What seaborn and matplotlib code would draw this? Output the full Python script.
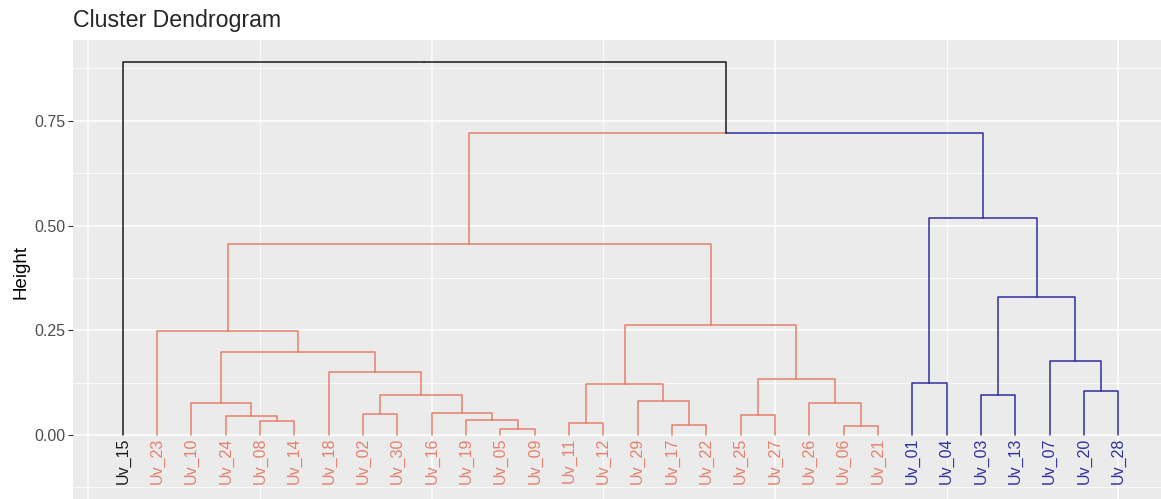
import matplotlib
matplotlib.use('Agg')
import numpy as np
import pandas as pd
import matplotlib.pyplot as plt
import seaborn as sns

# leaves in dendrogram order, with their cluster
leaves = ['Uv_15', 'Uv_23', 'Uv_10', 'Uv_24', 'Uv_08', 'Uv_14', 'Uv_18', 'Uv_02',
          'Uv_30', 'Uv_16', 'Uv_19', 'Uv_05', 'Uv_09', 'Uv_11', 'Uv_12', 'Uv_29',
          'Uv_17', 'Uv_22', 'Uv_25', 'Uv_27', 'Uv_26', 'Uv_06', 'Uv_21', 'Uv_01',
          'Uv_04', 'Uv_03', 'Uv_13', 'Uv_07', 'Uv_20', 'Uv_28']
leaf_cluster = ['c1'] + ['c2'] * 22 + ['c3'] * 7

# merges: "#n" means the n-th merge below
merge_a = ['Uv_08', 'Uv_24', 'Uv_10', 'Uv_05', 'Uv_19', 'Uv_16', 'Uv_02', '#6',
           'Uv_18', '#2', 'Uv_23', 'Uv_11', 'Uv_17', 'Uv_29', '#11', 'Uv_25',
           'Uv_06', 'Uv_26', '#15', '#14', '#10', 'Uv_01', 'Uv_03', 'Uv_20',
           'Uv_07', '#22', '#21', '#20', 'Uv_15']
merge_b = ['Uv_14', '#0', '#1', 'Uv_09', '#3', '#4', 'Uv_30', '#5',
           '#7', '#8', '#9', 'Uv_12', 'Uv_22', '#12', '#13', 'Uv_27',
           'Uv_21', '#16', '#17', '#18', '#19', 'Uv_04', 'Uv_13', 'Uv_28',
           '#23', '#24', '#25', '#26', '#27']
merge_height = [0.033, 0.045, 0.076, 0.014, 0.036, 0.052, 0.049, 0.096,
                0.150, 0.198, 0.248, 0.029, 0.024, 0.080, 0.121, 0.048,
                0.022, 0.076, 0.134, 0.263, 0.456, 0.124, 0.096, 0.105,
                0.177, 0.330, 0.518, 0.721, 0.891]

palette = {'c1': '#1a1a1a', 'c2': '#E5806B', 'c3': '#2F2FA0'}

# node positions / colours
node_x = {name: i + 1 for i, name in enumerate(leaves)}
node_h = {name: 0.0 for name in leaves}
node_c = dict(zip(leaves, leaf_cluster))

rows = []
for i, (a, b, h) in enumerate(zip(merge_a, merge_b, merge_height)):
    key = '#%d' % i
    xm = (node_x[a] + node_x[b]) / 2
    for child in (a, b):
        seg = '%s_%s' % (key, child)
        for px, py in [(node_x[child], node_h[child]), (node_x[child], h), (xm, h)]:
            rows.append({'seg': seg, 'x': px, 'y': py, 'cluster': node_c[child]})
    node_x[key] = xm
    node_h[key] = h
    node_c[key] = node_c[a] if node_c[a] == node_c[b] else 'c1'
segs = pd.DataFrame(rows)

sns.set_theme(style="darkgrid", rc={
    'axes.facecolor': '#EBEBEB',
    'grid.color': 'white',
})
plt.rcParams['font.family'] = ['Liberation Sans', 'DejaVu Sans']

fig = plt.figure(figsize=(11.61, 4.99), dpi=100)
ax = fig.add_axes([73 / 1161, -5 / 499, 1095 / 1161, 464 / 499])

sns.lineplot(data=segs, x='x', y='y', units='seg', estimator=None, sort=False,
             hue='cluster', palette=palette, linewidth=1.1, legend=False, ax=ax)

for i, (name, cl) in enumerate(zip(leaves, leaf_cluster)):
    ax.text(i + 1, -0.006, name, rotation=90, ha='center', va='top',
            fontsize=11.5, color=palette[cl])

ax.set_xlim(-0.45, 31.45)
ax.set_ylim(-0.165, 0.943)
ax.set_xticks([0, 10, 20, 30])
ax.set_xticks([5, 15, 25], minor=True)
ax.set_yticks([0, 0.25, 0.5, 0.75])
ax.set_yticks([-0.125, 0.125, 0.375, 0.625, 0.875], minor=True)
ax.set_yticklabels(['0.00', '0.25', '0.50', '0.75'])
ax.grid(which='major', color='white', linewidth=1.1)
ax.grid(which='minor', color='white', linewidth=0.6)
ax.tick_params(axis='x', which='both', length=0, labelbottom=False)
ax.tick_params(axis='y', which='major', left=True, length=3.5, width=0.8,
               color='#333333', labelcolor='#4D4D4D', labelsize=11.5, pad=2)
ax.tick_params(axis='y', which='minor', length=0)
for s in ax.spines.values():
    s.set_visible(False)
ax.set_xlabel('')
ax.set_ylabel('Height', fontsize=13.5, color='black')
ax.yaxis.set_label_coords(-0.040, 0.5)

fig.text(73 / 1161, 1 - 27 / 499, 'Cluster Dendrogram', fontsize=16.7,
         ha='left', va='baseline')

fig.savefig('out.png', dpi=100)
